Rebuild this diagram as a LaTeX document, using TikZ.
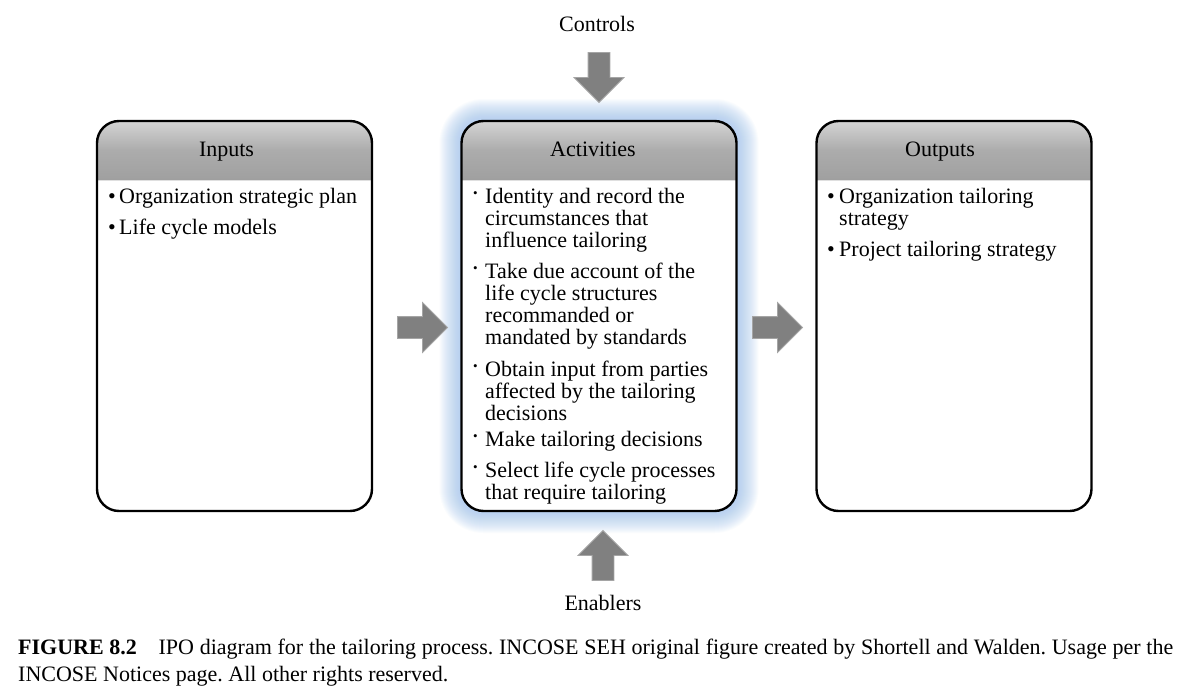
\documentclass[tikz,border=0pt]{standalone}
\usepackage{fontspec}
\setmainfont{Liberation Serif}
\usetikzlibrary{shapes.arrows,calc}
\definecolor{glowc}{RGB}{150,190,240}
\definecolor{arrowc}{RGB}{128,128,128}
\definecolor{arrowedge}{RGB}{165,165,165}
\definecolor{hdtop}{RGB}{212,212,212}
\definecolor{hdmid}{RGB}{172,172,172}
\definecolor{hdbot}{RGB}{160,160,160}
\begin{document}
\frenchspacing
\begin{tikzpicture}[x=1pt,y=-1pt,
  box/.style={rectangle, minimum width=275pt, minimum height=390pt, inner sep=0pt, outer sep=0pt},
  txt/.style={anchor=base west, inner sep=0pt, font=\fontsize{22}{22}\selectfont},
  ctxt/.style={anchor=base, inner sep=0pt, font=\fontsize{22}{22}\selectfont},
  blockarrow/.style={single arrow, fill=arrowc, draw=arrowedge, line width=0.8pt,
    minimum height=50pt, single arrow head extend=14pt, inner sep=10.5pt, outer sep=0pt},
  border/.style={draw=black, line width=2.4pt, rounded corners=22pt}
]
\useasboundingbox (0,0) rectangle (1191,693);
\fill[white] (0,0) rectangle (1191,693);

% box placeholders
\path (234.5,316) node[box] (inp) {};
\path (599,316) node[box] (act) {};
\path (954,316) node[box] (out) {};

% glow around Activities
\foreach \k in {1,...,22}{
  \pgfmathsetmacro\rr{22+\k}
  \fill[glowc, opacity=0.045, rounded corners=\rr pt]
    ($(act.north west)+(-\k,-\k)$) rectangle ($(act.south east)+(\k,\k)$);
}

% boxes
\foreach \b in {inp,act,out}{
  \fill[white, rounded corners=22pt] (\b.north west) rectangle (\b.south east);
  \begin{scope}
    \clip[rounded corners=22pt] (\b.north west) rectangle (\b.south east);
    \shade[top color=hdtop, bottom color=hdbot, middle color=hdmid]
      (\b.north west) rectangle ($(\b.north east)+(0,58)$);
    \draw[gray!75, line width=1pt] ($(\b.north west)+(0,58)$) -- ($(\b.north east)+(0,58)$);
    \draw[gray!25, line width=1.2pt] ($(\b.north west)+(0,59.5)$) -- ($(\b.north east)+(0,59.5)$);
  \end{scope}
  \draw[border] (\b.north west) rectangle (\b.south east);
}

% headers
\node[ctxt] (hin) at (226.5,156) {Inputs};
\node[ctxt] (hact) at (593,156) {Activities};
\node[ctxt] (hout) at (940,156) {Outputs};

% Inputs text
\node[txt] (ib1) at (108,203) {\textbullet};
\node[txt] (i1) at (119,203) {Organization strategic plan};
\node[txt] (ib2) at (108,234) {\textbullet};
\node[txt] (i2) at (119,234) {Life cycle models};

% Activities text
\newcommand{\smallbul}{{\fontsize{13}{13}\selectfont\raisebox{0.42em}{\textbullet}}}
\foreach \y/\name in {203/ab1,278/ab2,376/ab3,446/ab4,477/ab5}{
  \node[txt] (\name) at (473,\y) {\smallbul};
}
\node[txt] (a1) at (485,203) {Identity and record the};
\node[txt] (a2) at (485,225) {circumstances that};
\node[txt] (a3) at (485,247) {influence tailoring};
\node[txt] (a4) at (485,278) {Take due account of the};
\node[txt] (a5) at (485,300) {life cycle structures};
\node[txt] (a6) at (485,322) {recommanded or};
\node[txt] (a7) at (485,344) {mandated by standards};
\node[txt] (a8) at (485,376) {Obtain input from parties};
\node[txt] (a9) at (485,398) {affected by the tailoring};
\node[txt] (a10) at (485,420) {decisions};
\node[txt] (a11) at (485,446) {Make tailoring decisions};
\node[txt] (a12) at (485,477) {Select life cycle processes};
\node[txt] (a13) at (485,499) {that require tailoring};

% Outputs text
\node[txt] (ob1) at (827,203) {\textbullet};
\node[txt] (o1) at (839,203) {Organization tailoring};
\node[txt] (o2) at (839,225) {strategy};
\node[txt] (ob2) at (827,256) {\textbullet};
\node[txt] (o3) at (839,256) {Project tailoring strategy};

% block arrows
\node[blockarrow] (arl) at (417,327.5) {};
\node[blockarrow] (arr) at (772,327.5) {};
\node[blockarrow, shape border rotate=270] (arc) at (599,72) {};
\node[blockarrow, shape border rotate=90] (are) at (603,561) {};

% Controls / Enablers labels
\node[ctxt] (ctl) at (597,32) {Controls};
\node[ctxt] (ena) at (603,610) {Enablers};

% caption
\node[txt] (cap1) at (18,654)
  {\hbox to 1155pt{\textbf{FIGURE 8.2}\hskip 0.9em plus 1em IPO diagram for the tailoring process. INCOSE SEH original figure created by Shortell and Walden. Usage per the}};
\node[txt] (cap2) at (18,681)
  {INCOSE Notices page. All other rights reserved.};
\end{tikzpicture}
\end{document}
